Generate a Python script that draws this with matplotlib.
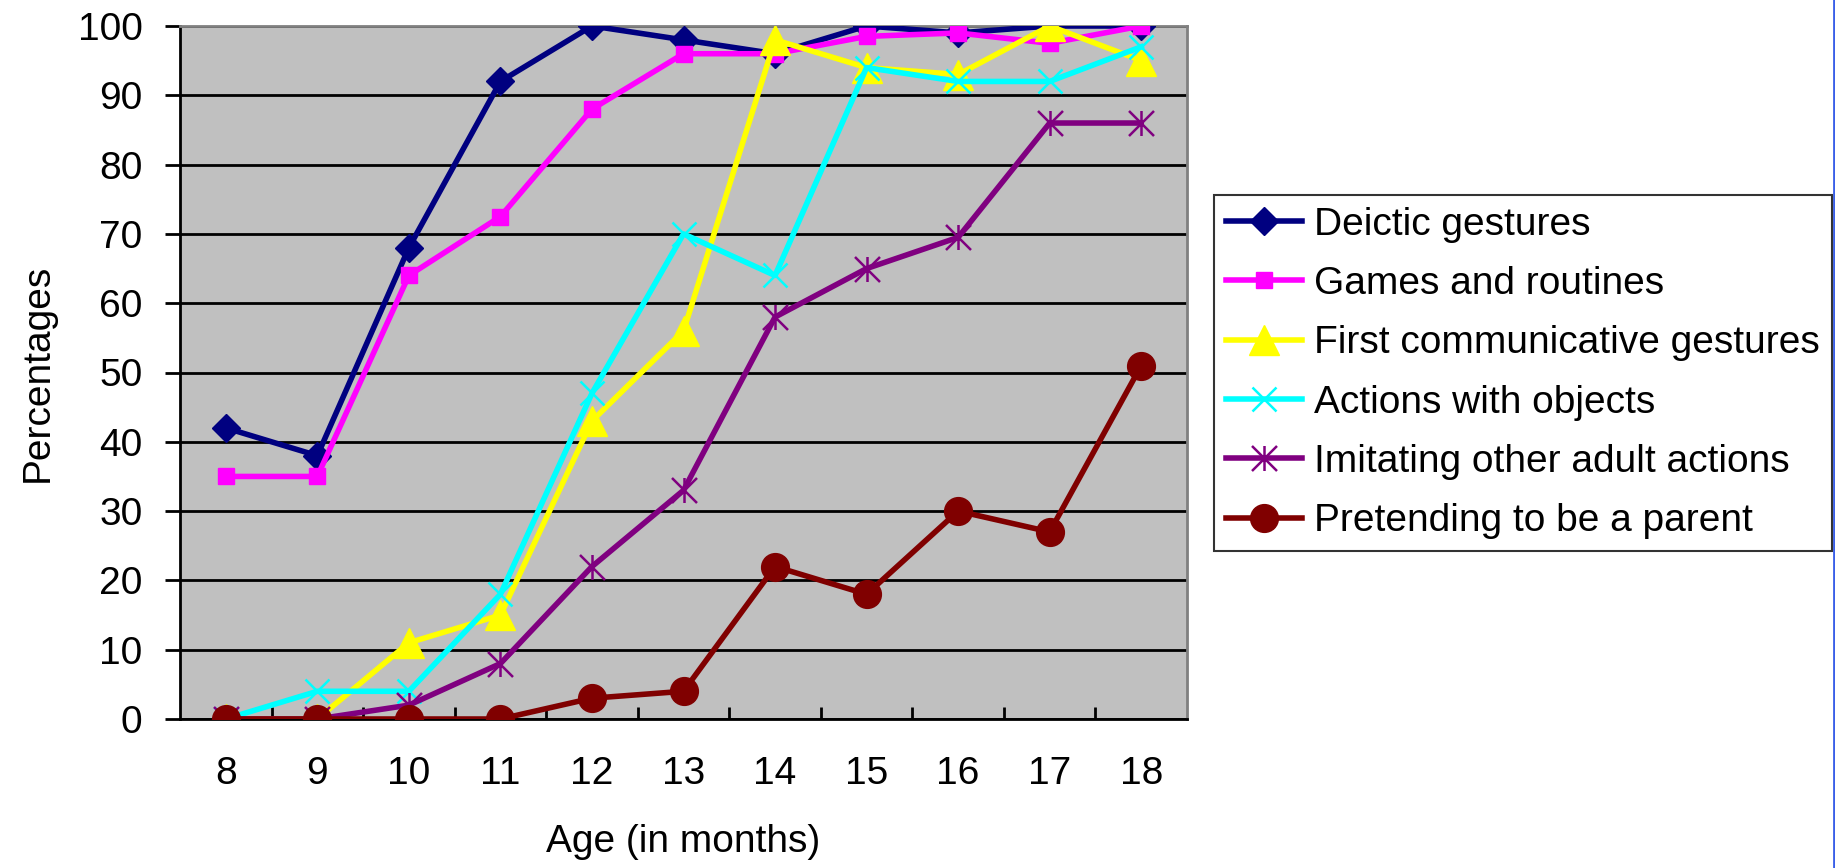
import matplotlib.pyplot as plt
from matplotlib.lines import Line2D
from matplotlib.path import Path
from matplotlib.ticker import FixedLocator

plt.rcParams['font.family'] = ['Liberation Sans', 'DejaVu Sans']

# Edad en meses y porcentaje de niños que muestran cada conducta
edades = ['8', '9', '10', '11', '12', '13', '14', '15', '16', '17', '18']
deicticos = [42, 38, 68, 92, 100, 98, 96, 100, 99, 100, 100]
juegos = [35, 35, 64, 72.5, 88, 96, 96, 98.5, 99, 97.5, 100]
primeros_gestos = [0, 0, 11, 15, 43, 56, 98, 94, 93, 100, 95]
acciones_objetos = [0, 4, 4, 18, 47, 70, 64, 94, 92, 92, 97]
imitacion = [0, 0, 2, 8, 22, 33, 58, 65, 69.5, 86, 86]
fingir_padre = [0, 0, 0, 0, 3, 4, 22, 18, 30, 27, 51]

etiquetas = ['Deictic gestures', 'Games and routines', 'First communicative gestures',
             'Actions with objects', 'Imitating other adult actions',
             'Pretending to be a parent']

# marcador de asterisco (aspa + barra vertical)
asterisco = Path([(-1, -1), (1, 1), (-1, 1), (1, -1), (0, -1), (0, 1)],
                 [Path.MOVETO, Path.LINETO, Path.MOVETO, Path.LINETO, Path.MOVETO, Path.LINETO])

fs = 28
fig = plt.figure(figsize=(18.35, 8.68), dpi=100)
ax = fig.add_axes([180 / 1835, 1 - 719 / 868, (1187 - 180) / 1835, (719 - 26) / 868])
ax.set_facecolor('#C0C0C0')

x = list(range(len(edades)))
lw = 4
ax.plot(x, deicticos, color='#000080', lw=lw, marker='D', ms=14.5, label=etiquetas[0], zorder=3)
ax.plot(x, juegos, color='#FF00FF', lw=lw, marker='s', ms=11.5, label=etiquetas[1], zorder=4)
ax.plot(x, primeros_gestos, color='#FFFF00', lw=lw, marker='^', ms=21, label=etiquetas[2], zorder=5)
ax.plot(x, acciones_objetos, color='#00FFFF', lw=lw, marker='x', ms=17, mew=1.8,
        label=etiquetas[3], zorder=6)
ax.plot(x, imitacion, color='#800080', lw=lw, marker=asterisco, ms=18, mew=1.8,
        fillstyle='none', label=etiquetas[4], zorder=7)
ax.plot(x, fingir_padre, color='#800000', lw=lw, marker='o', ms=20, label=etiquetas[5], zorder=8)

ax.set_xlim(-0.5, len(edades) - 0.5)
ax.set_ylim(0, 100)
ax.set_yticks(range(0, 101, 10))
ax.set_xticks(x)
ax.set_xticklabels(edades)
ax.xaxis.set_minor_locator(FixedLocator([i + 0.5 for i in range(len(edades) - 1)]))
ax.tick_params(axis='x', which='major', length=0, pad=27, labelsize=fs)
ax.tick_params(axis='x', which='minor', direction='in', length=8.6, width=2)
ax.tick_params(axis='y', direction='out', length=11, width=2, pad=16, labelsize=fs)

ax.grid(axis='y', color='black', lw=2)
ax.set_axisbelow(True)
for lado in ['left', 'bottom']:
    ax.spines[lado].set_color('black')
    ax.spines[lado].set_linewidth(2)
for lado in ['top', 'right']:
    ax.spines[lado].set_color('#808080')
    ax.spines[lado].set_linewidth(2)

ax.set_xlabel('Age (in months)', fontsize=fs, labelpad=23)
ax.set_ylabel('Percentages', fontsize=fs, labelpad=16)

leg = fig.legend(loc='upper left', bbox_to_anchor=(1214 / 1835, 1 - 195 / 868),
                 fontsize=fs, frameon=True, fancybox=False, borderaxespad=0,
                 handlelength=1.95, handletextpad=0.33, labelspacing=0.6, borderpad=0.3)
leg.get_frame().set_edgecolor('black')
leg.get_frame().set_linewidth(1.5)

# linea azul en el borde derecho
fig.add_artist(Line2D([1833.5 / 1835] * 2, [0, 1], color='#3A5FE8', lw=2))

fig.savefig('out.png', dpi=100)
